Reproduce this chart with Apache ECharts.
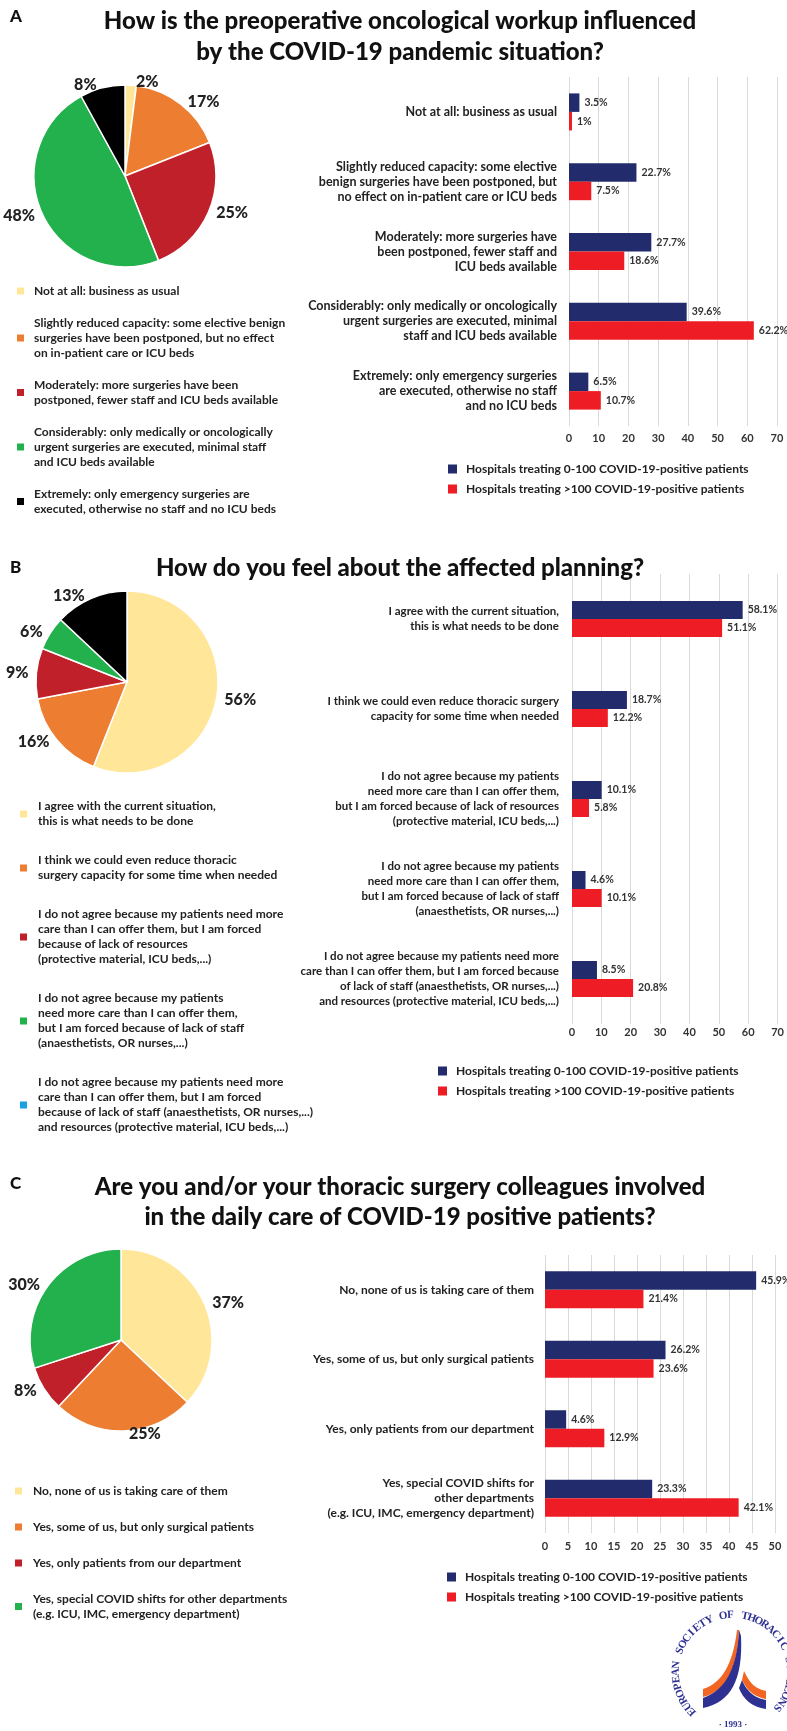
<!DOCTYPE html>
<html><head><meta charset="utf-8">
<script src="https://cdn.jsdelivr.net/npm/echarts@6/dist/echarts.min.js"></script>
<style>html,body{margin:0;padding:0;background:#fff}#c{width:787px;height:1731px}</style>
</head><body><div id="c"></div><script>
const FONT = "Lato, 'Liberation Sans', sans-serif";
const W = 'bold';
const WT = 900;
const TXT = '#222222';

const seriesNames = ['Hospitals treating 0-100 COVID-19-positive patients', 'Hospitals treating >100 COVID-19-positive patients'];
const pieColors = ['#FFE699', '#ED7D31', '#C0202A', '#22B14C', '#000000'];

// Panel A
const titleA = 'How is the preoperative oncological workup influenced\nby the COVID-19 pandemic situation?';
const pieNamesA = [
  'Not at all: business as usual',
  'Slightly reduced capacity: some elective benign\nsurgeries have been postponed, but no effect\non in-patient care or ICU beds',
  'Moderately: more surgeries have been\npostponed, fewer staff and ICU beds available',
  'Considerably: only medically or oncologically\nurgent surgeries are executed, minimal staff\nand ICU beds available',
  'Extremely: only emergency surgeries are\nexecuted, otherwise no staff and no ICU beds'
];
const pieValuesA = [2, 17, 25, 48, 8];
const barCatsA = [
  'Not at all: business as usual',
  'Slightly reduced capacity: some elective\nbenign surgeries have been postponed, but\nno effect on in-patient care or ICU beds',
  'Moderately: more surgeries have\nbeen postponed, fewer staff and\nICU beds available',
  'Considerably: only medically or oncologically\nurgent surgeries are executed, minimal\nstaff and ICU beds available',
  'Extremely: only emergency surgeries\nare executed, otherwise no staff\nand no ICU beds'
];
const lowA = [3.5, 22.7, 27.7, 39.6, 6.5];
const highA = [1, 7.5, 18.6, 62.2, 10.7];

// Panel B
const titleB = 'How do you feel about the affected planning?';
const pieNamesB = [
  'I agree with the current situation,\nthis is what needs to be done',
  'I think we could even reduce thoracic\nsurgery capacity for some time when needed',
  'I do not agree because my patients need more\ncare than I can offer them, but I am forced\nbecause of lack of resources\n(protective material, ICU beds,...)',
  'I do not agree because my patients\nneed more care than I can offer them,\nbut I am forced because of lack of staff\n(anaesthetists, OR nurses,...)',
  'I do not agree because my patients need more\ncare than I can offer them, but I am forced\nbecause of lack of staff (anaesthetists, OR nurses,...)\nand resources (protective material, ICU beds,...)'
];
const pieValuesB = [56, 16, 9, 6, 13];
const legendColorB5 = '#1BA1E2';
const barCatsB = [
  'I agree with the current situation,\nthis is what needs to be done',
  'I think we could even reduce thoracic surgery\ncapacity for some time when needed',
  'I do not agree because my patients\nneed more care than I can offer them,\nbut I am forced because of lack of resources\n(protective material, ICU beds,...)',
  'I do not agree because my patients\nneed more care than I can offer them,\nbut I am forced because of lack of staff\n(anaesthetists, OR nurses,...)',
  'I do not agree because my patients need more\ncare than I can offer them, but I am forced because\nof lack of staff (anaesthetists, OR nurses,...)\nand resources (protective material, ICU beds,...)'
];
const lowB = [58.1, 18.7, 10.1, 4.6, 8.5];
const highB = [51.1, 12.2, 5.8, 10.1, 20.8];

// Panel C
const titleC = 'Are you and/or your thoracic surgery colleagues involved\nin the daily care of COVID-19 positive patients?';
const pieNamesC = [
  'No, none of us is taking care of them',
  'Yes, some of us, but only surgical patients',
  'Yes, only patients from our department',
  'Yes, special COVID shifts for other departments\n(e.g. ICU, IMC, emergency department)'
];
const pieValuesC = [37, 25, 8, 30];
const barCatsC = [
  'No, none of us is taking care of them',
  'Yes, some of us, but only surgical patients',
  'Yes, only patients from our department',
  'Yes, special COVID shifts for\nother departments\n(e.g. ICU, IMC, emergency department)'
];
const lowC = [45.9, 26.2, 4.6, 23.3];
const highC = [21.4, 23.6, 12.9, 42.1];

const barColors = ['#222C6C', '#EE1D25'];

function pieData(names, values) {
  return names.map((n, i) => ({ name: n, value: values[i], itemStyle: { color: pieColors[i] } }));
}
function pieSeries(names, values, center) {
  return {
    type: 'pie', center: center, radius: 91, startAngle: 90, clockwise: true,
    avoidLabelOverlap: false, data: pieData(names, values),
    itemStyle: { borderColor: '#fff', borderWidth: 1.5 },
    label: { position: 'outside', formatter: '{c}%', fontFamily: FONT, fontWeight: WT, fontSize: 16, color: TXT },
    labelLine: { show: false, length: 3, length2: 0 }
  };
}
function pieLegend(names, left, top, gap, pad, extra) {
  return {
    orient: 'vertical', left: left, top: top, padding: 0, itemGap: gap,
    itemWidth: 9, itemHeight: 9, icon: 'rect', selectedMode: false,
    data: names.map((n, i) => (extra && extra[i]) ? { name: n, itemStyle: { color: extra[i] } } : n),
    textStyle: { fontFamily: FONT, fontWeight: W, fontSize: 12, lineHeight: 15, color: TXT, padding: [0, 0, 0, pad] }
  };
}
function barLegend(left, top) {
  return {
    orient: 'vertical', left: left, top: top, padding: 0, itemGap: 5,
    itemWidth: 9, itemHeight: 9, icon: 'rect', selectedMode: false,
    data: seriesNames,
    textStyle: { fontFamily: FONT, fontWeight: W, fontSize: 12, lineHeight: 15, color: TXT, padding: [0, 0, 0, 4] }
  };
}
function barSeries(idx, low, high, bw) {
  const lab = { show: true, position: 'right', distance: 5, formatter: p => p.value + '%', fontFamily: FONT, fontWeight: W, fontSize: 10.5, color: '#333' };
  return [
    { type: 'bar', name: seriesNames[0], xAxisIndex: idx, yAxisIndex: idx, data: low, barWidth: bw, barGap: '0%', itemStyle: { color: barColors[0] }, label: lab },
    { type: 'bar', name: seriesNames[1], xAxisIndex: idx, yAxisIndex: idx, data: high, barWidth: bw, barGap: '0%', itemStyle: { color: barColors[1] }, label: lab }
  ];
}
function xAx(idx, max, interval, margin) {
  return {
    type: 'value', gridIndex: idx, min: 0, max: max, interval: interval,
    axisLine: { show: false }, axisTick: { show: false },
    splitLine: { lineStyle: { color: '#d9d9d9', width: 1 } },
    axisLabel: { fontFamily: FONT, fontWeight: W, fontSize: 11, color: '#333', margin: margin }
  };
}
function yAx(idx, cats, fs, margin) {
  return {
    type: 'category', gridIndex: idx, data: cats, inverse: true,
    axisLine: { show: false }, axisTick: { show: false },
    axisLabel: { fontFamily: FONT, fontWeight: W, fontSize: fs, lineHeight: 15, color: TXT, margin: margin, align: 'right' }
  };
}
function titleComp(text, top, lh) {
  return { text: text, left: 400, top: top, textAlign: 'center', padding: 0,
    textStyle: { fontFamily: FONT, fontWeight: WT, fontSize: 24, lineHeight: lh, color: '#111' } };
}
function letterComp(text, left, top) {
  return { text: text, left: left, top: top, padding: 0,
    textStyle: { fontFamily: FONT, fontWeight: WT, fontSize: 17, color: '#111' } };
}

// logo (decoration)
const logoText = 'EUROPEAN SOCIETY OF THORACIC SURGEONS';
const logoGraphics = [];
function bez(p0, p1, p2, p3, n) {
  const pts = [];
  for (let i = 0; i <= n; i++) {
    const t = i / n, u = 1 - t;
    pts.push([u*u*u*p0[0] + 3*u*u*t*p1[0] + 3*u*t*t*p2[0] + t*t*t*p3[0],
              u*u*u*p0[1] + 3*u*u*t*p1[1] + 3*u*t*t*p2[1] + t*t*t*p3[1]]);
  }
  return pts;
}
(function () {
  const cx = 733, cy = 1672, R = 57, a0 = 226, step = 7.3;
  for (let i = 0; i < logoText.length; i++) {
    const a = (a0 + i * step) * Math.PI / 180;
    logoGraphics.push({
      type: 'text', x: cx + R * Math.sin(a), y: cy - R * Math.cos(a), rotation: -a,
      style: { text: logoText[i], fontFamily: "'Liberation Serif',serif", fontWeight: 'bold', fontSize: 11, fill: '#2E3192', align: 'center', verticalAlign: 'middle' }
    });
  }
  logoGraphics.push({ type: 'text', x: cx, y: 1725, style: { text: '\u00B7 1993 \u00B7', fontFamily: "'Liberation Serif',serif", fontWeight: 'bold', fontSize: 9, fill: '#2E3192', align: 'center', verticalAlign: 'middle' } });
  const shapes = [
    [[[737,1630],[733,1664],[722,1683],[703,1689]], [[703,1697],[726,1691],[737,1670],[739,1630]], '#F26522'],
    [[[739,1630],[737,1668],[726,1690],[703,1698]], [[703,1708],[731,1702],[743,1680],[741,1636]], '#2E3192'],
    [[[744,1671],[750,1684],[756,1689],[766,1691]], [[766,1699],[754,1697],[747,1690],[742,1680]], '#F26522'],
    [[[742,1680],[747,1692],[755,1698],[766,1700]], [[766,1709],[752,1707],[743,1699],[739,1688]], '#2E3192']
  ];
  shapes.forEach(s => {
    const pts = bez(...s[0], 16).concat(bez(...s[1], 16));
    logoGraphics.push({ type: 'polygon', shape: { points: pts }, style: { fill: s[2] } });
  });
})();

const chart = echarts.init(document.getElementById('c'), null, { renderer: 'canvas' });
chart.setOption({
  animation: false,
  backgroundColor: '#fff',
  title: [
    letterComp('A', 10, 8), titleComp(titleA, 6, 31),
    letterComp('B', 10, 559), titleComp(titleB, 553, 31),
    letterComp('C', 10, 1175), titleComp(titleC, 1172, 30)
  ],
  legend: [
    pieLegend(pieNamesA, 15, 283.5, 17, 4),
    pieLegend(pieNamesB, 18, 799, 24, 5, [null, null, null, null, legendColorB5]),
    pieLegend(pieNamesC, 13, 1483.5, 21, 5),
    barLegend(448, 461.5), barLegend(438, 1063.5), barLegend(447, 1569.5)
  ],
  grid: [
    { left: 569, width: 208, top: 77, height: 349 },
    { left: 572, width: 210, top: 574, height: 450 },
    { left: 545, width: 230, top: 1255, height: 278 }
  ],
  xAxis: [xAx(0, 70, 10, 7), xAx(1, 70, 10, 3), xAx(2, 50, 5, 8)],
  yAxis: [yAx(0, barCatsA, 12.5, 12), yAx(1, barCatsB, 11.5, 13), yAx(2, barCatsC, 12, 11)],
  series: [
    pieSeries(pieNamesA, pieValuesA, [125, 176]),
    pieSeries(pieNamesB, pieValuesB, [127, 682]),
    pieSeries(pieNamesC, pieValuesC, [121, 1340]),
    ...barSeries(0, lowA, highA, 18.5),
    ...barSeries(1, lowB, highB, 18),
    ...barSeries(2, lowC, highC, 18.5)
  ],
  graphic: logoGraphics
});
</script></body></html>
